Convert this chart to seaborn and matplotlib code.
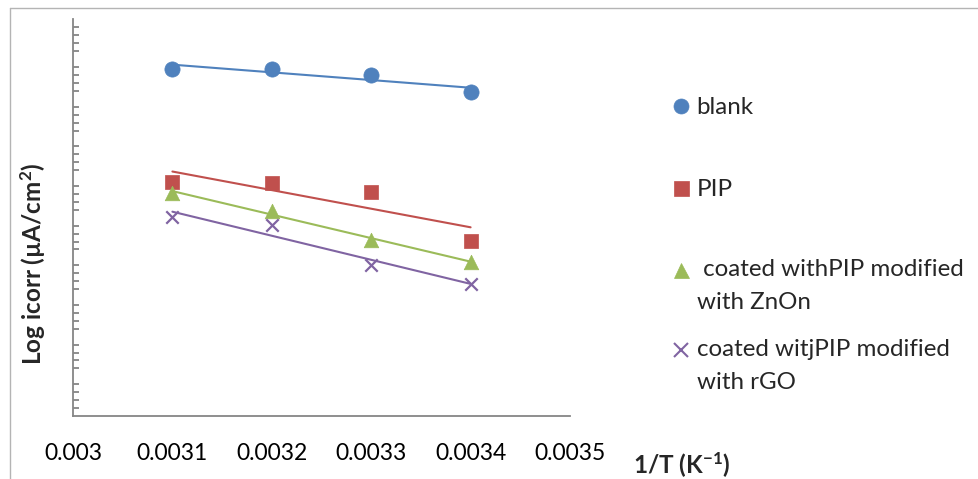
import numpy as np
import pandas as pd
import matplotlib
matplotlib.use("Agg")
import matplotlib.pyplot as plt
from matplotlib.lines import Line2D
from matplotlib.ticker import MultipleLocator
import seaborn as sns

# ---------------- data ----------------
inv_T = [0.0031, 0.0032, 0.0033, 0.0034]
blank = [8.76, 8.75, 8.61, 8.16]
pip = [5.90, 5.88, 5.66, 4.41]
pip_zno = [5.62, 5.18, 4.44, 3.89]
pip_rgo = [5.02, 4.81, 3.81, 3.33]

series_names = ["blank", "PIP", " coated withPIP modified\nwith ZnOn",
                "coated witjPIP modified\nwith rGO"]
xtick_values = [0.003, 0.0031, 0.0032, 0.0033, 0.0034, 0.0035]
xtick_labels = ["0.003", "0.0031", "0.0032", "0.0033", "0.0034", "0.0035"]
x_label = "1/T (K$^{\\mathbf{-1}}$)"
y_label = "Log icorr (µA/cm$^{\\mathbf{2}}$)"

# ---------------- style ----------------
sns.set_style("white")
plt.rcParams["font.family"] = ["Lato", "DejaVu Sans"]
plt.rcParams["mathtext.fontset"] = "custom"
plt.rcParams["mathtext.rm"] = "Lato"
plt.rcParams["mathtext.bf"] = "Lato:bold"
plt.rcParams["mathtext.default"] = "bf"

colors = ["#4F81BD", "#C0504D", "#9BBB59", "#8064A2"]
markers = ["o", "s", "^", "x"]
sizes = [120, 105, 110, 80]
axis_gray = "#868686"

df = pd.DataFrame({"x": inv_T * 4,
                   "y": blank + pip + pip_zno + pip_rgo,
                   "series": sum([[n] * 4 for n in series_names], [])})

fig = plt.figure(figsize=(9.79, 4.79), dpi=100)
ax = fig.add_axes([73 / 979, 1 - 416 / 479, (570 - 73) / 979, (416 - 19.5) / 479])

for name, c, m, s in zip(series_names, colors, markers, sizes):
    sub = df[df["series"] == name]
    sns.regplot(data=sub, x="x", y="y", ax=ax, ci=None, truncate=True,
                scatter=False, line_kws=dict(color=c, lw=1.5, zorder=2))
    if m == "x":
        kw = dict(linewidths=1.6)
    else:
        kw = dict(edgecolor=c, linewidth=0.5)
    sns.scatterplot(data=sub, x="x", y="y", ax=ax, color=c, marker=m, s=s,
                    zorder=3, legend=False, **kw)

ax.set_xlim(0.003, 0.0035)
ax.set_ylim(0, 10)
ax.set_xticks(xtick_values)
ax.set_xticklabels(xtick_labels)
ax.yaxis.set_major_locator(MultipleLocator(1))
ax.yaxis.set_minor_locator(MultipleLocator(0.2))
ax.set_yticklabels([])

for sp in ["top", "right"]:
    ax.spines[sp].set_visible(False)
for sp in ["left", "bottom"]:
    ax.spines[sp].set_color(axis_gray)
    ax.spines[sp].set_linewidth(1.3)

ax.tick_params(axis="x", which="major", direction="out", length=5.5, width=1.3,
               color=axis_gray, labelsize=16.5, pad=14, labelcolor="black")
ax.tick_params(axis="y", which="major", direction="in", length=6, width=1.3,
               color=axis_gray, labelleft=False)
ax.tick_params(axis="y", which="minor", direction="in", length=4.3, width=1.3,
               color=axis_gray, left=True)

ax.set_xlabel(x_label, fontsize=17.5, fontweight="bold")
ax.xaxis.set_label_coords((682 - 73) / 497, (416 - 465) / 396.5)
ax.xaxis.label.set_va("center")
ax.set_ylabel(y_label, fontsize=17.5, fontweight="bold")
ax.yaxis.set_label_coords((33 - 73) / 497, (416 - 264) / 396.5)
ax.yaxis.label.set_va("center")

# ---------------- legend (one block per entry, Excel-like layout) ----------------
legend_centers_px = [108, 190, 286, 366]
for name, c, m, s, yc in zip(series_names, colors, markers, sizes, legend_centers_px):
    h = Line2D([], [], linestyle="none", marker=m, color=c,
               markersize=10.8 if m != "x" else 9.8,
               markeredgewidth=1.5 if m == "x" else 0.5, markeredgecolor=c)
    leg = fig.legend(handles=[h], labels=[name], loc="center left",
                     bbox_to_anchor=(670 / 979, 1 - yc / 479),
                     bbox_transform=fig.transFigure, frameon=False,
                     fontsize=17.4, handlelength=0.9, handletextpad=0.2,
                     borderpad=0, borderaxespad=0)
    t = leg.get_texts()[0]
    if "\n" in name:
        t.set_linespacing(1.65)
        for lh in leg.legend_handles:
            lh.set_ydata(np.asarray(lh.get_ydata()) + 11.5)

# outer frame (chart area border)
fig.add_artist(Line2D([9.5 / 979, 9.5 / 979], [0, 1 - 7.5 / 479],
                      transform=fig.transFigure, color="#b4b4b4", lw=1))
fig.add_artist(Line2D([9.5 / 979, 1], [1 - 7.5 / 479, 1 - 7.5 / 479],
                      transform=fig.transFigure, color="#b4b4b4", lw=1))

fig.savefig("out.png", dpi=100, facecolor="white")
